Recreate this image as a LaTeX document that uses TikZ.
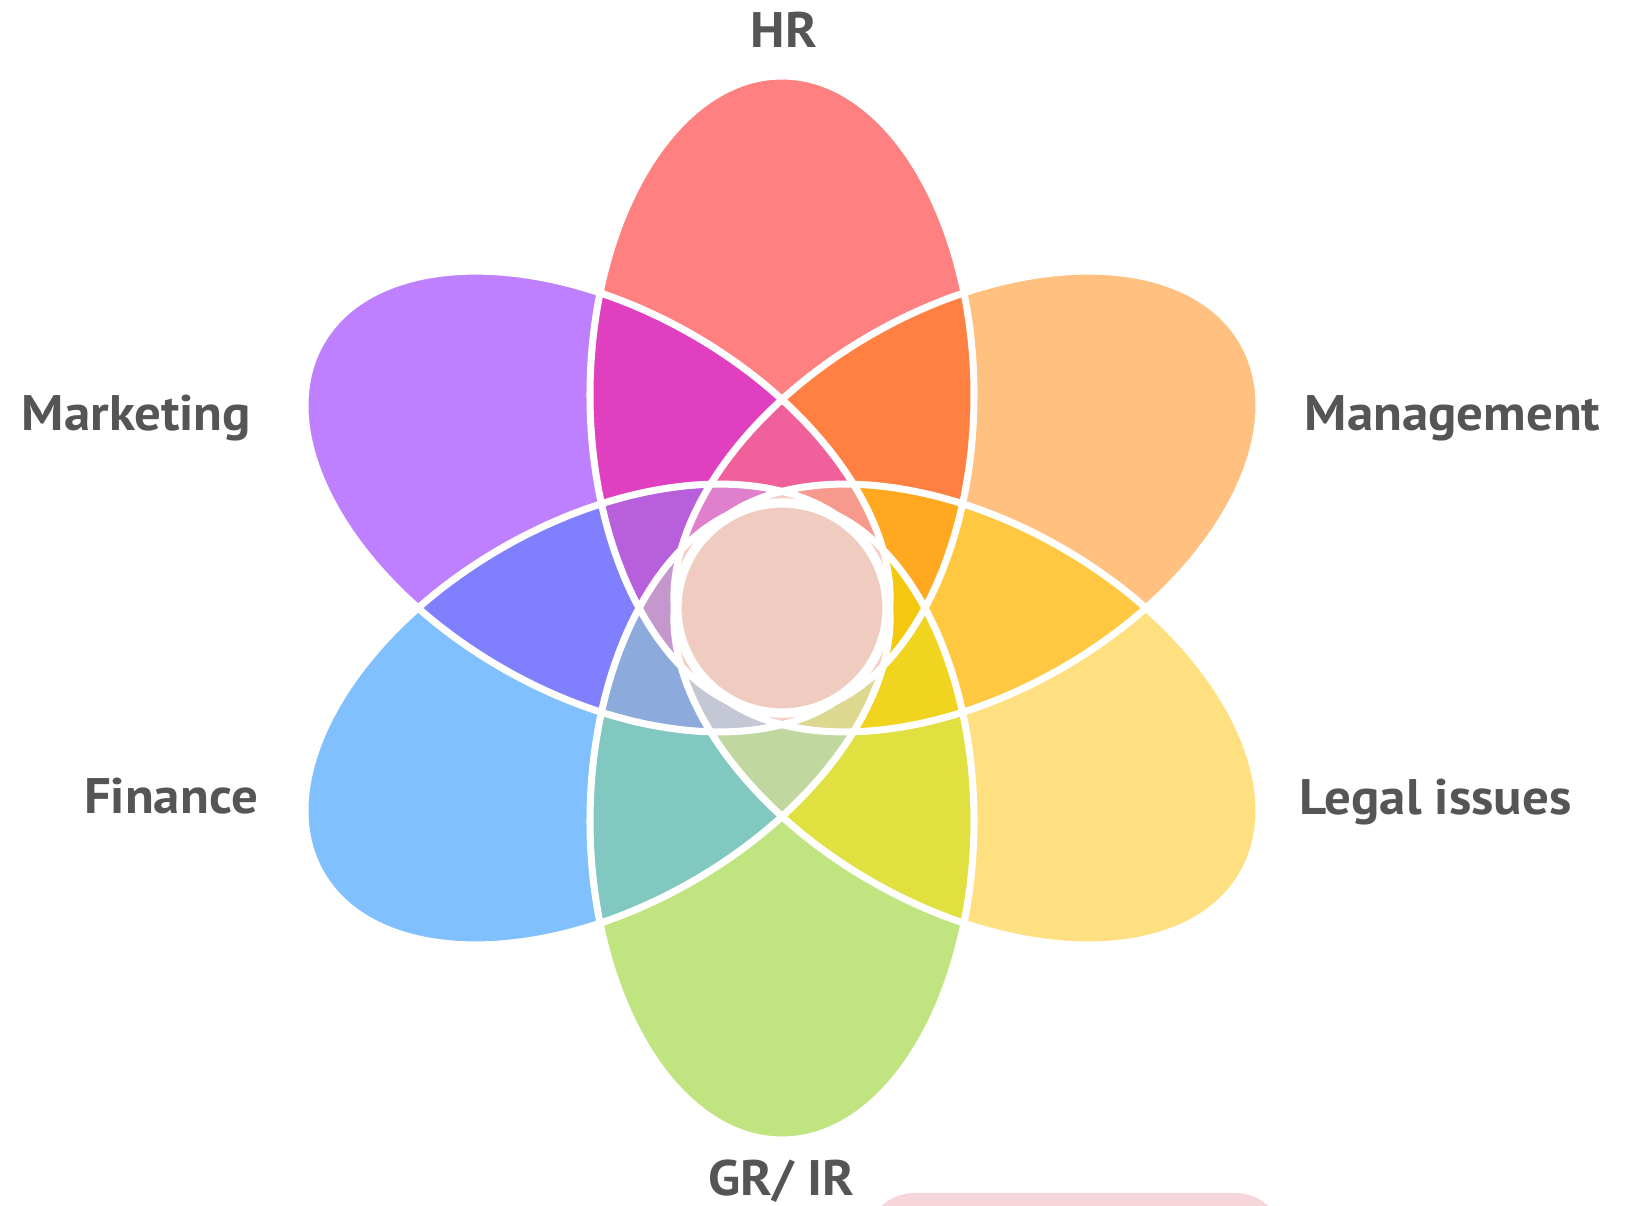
\documentclass[tikz,border=0pt]{standalone}
\usepackage{fontspec}
\setmainfont{PT Sans}[FakeStretch=1.06]
\usepackage{xcolor}
% one petal each
\definecolor{cMgmt}{HTML}{FFC080}
\definecolor{cHR}{HTML}{FF8080}
\definecolor{cMkt}{HTML}{BF80FF}
\definecolor{cFin}{HTML}{80C0FF}
\definecolor{cGR}{HTML}{C0E480}
\definecolor{cLegal}{HTML}{FFE080}
% overlaps
\definecolor{cMgmtHR}{HTML}{FF8040}
\definecolor{cHRMkt}{HTML}{E040C0}
\definecolor{cMktFin}{HTML}{8080FF}
\definecolor{cFinGR}{HTML}{80C8C0}
\definecolor{cGRLegal}{HTML}{E0E040}
\definecolor{cLegalMgmt}{HTML}{FFC840}
\definecolor{cTriMgmt}{HTML}{FFA820}
\definecolor{cTriHR}{HTML}{F0609A}
\definecolor{cTriMkt}{HTML}{B860DC}
\definecolor{cTriFin}{HTML}{8CAADC}
\definecolor{cTriGR}{HTML}{C0D8A0}
\definecolor{cTriLegal}{HTML}{F0D420}
\definecolor{cQuadA}{HTML}{F59A8C}
\definecolor{cQuadB}{HTML}{E080CC}
\definecolor{cQuadC}{HTML}{C498CC}
\definecolor{cQuadD}{HTML}{C4C8D4}
\definecolor{cQuadE}{HTML}{DCD890}
\definecolor{cQuadF}{HTML}{F5C810}
\definecolor{cFive}{HTML}{F6CCC4}
\definecolor{cCore}{HTML}{F0CCC0}
\definecolor{cNote}{HTML}{F6D6DB}
\definecolor{labelgray}{HTML}{555555}
\tikzset{
    petal-edge/.style = {draw=white, line width=2pt},
    area-label/.style = {text=labelgray, font=\bfseries\fontsize{14.2}{17}\selectfont, anchor=base, inner sep=0pt},
}

\begin{document}
\begin{tikzpicture}
\useasboundingbox (0,0) rectangle (16.3,-12.06);
\fill[cNote, rounded corners=0.5cm] (8.65,-11.93) rectangle (12.85,-12.6);

\begin{scope}[shift={(7.82,-6.08)}]
% petals
\foreach \ang/\col in {30/cMgmt, 90/cHR, 150/cMkt, 210/cFin, 270/cGR, 330/cLegal}
    \fill[\col, rotate=\ang] (2.13,0) ellipse [x radius=3.19, y radius=1.92];
% two petals
\foreach \ang/\col in {30/cMgmtHR, 90/cHRMkt, 150/cMktFin, 210/cFinGR, 270/cGRLegal, 330/cLegalMgmt} {
    \begin{scope}
        \clip[rotate=\ang] (2.13,0) ellipse [x radius=3.19, y radius=1.92];
        \fill[\col, rotate=\ang+60] (2.13,0) ellipse [x radius=3.19, y radius=1.92];
    \end{scope}
}
% three petals
\foreach \ang/\col in {30/cTriMgmt, 90/cTriHR, 150/cTriMkt, 210/cTriFin, 270/cTriGR, 330/cTriLegal} {
    \begin{scope}
        \clip[rotate=\ang-60] (2.13,0) ellipse [x radius=3.19, y radius=1.92];
        \clip[rotate=\ang+60] (2.13,0) ellipse [x radius=3.19, y radius=1.92];
        \fill[\col, rotate=\ang] (2.13,0) ellipse [x radius=3.19, y radius=1.92];
    \end{scope}
}
% four petals
\foreach \ang/\col in {30/cQuadA, 90/cQuadB, 150/cQuadC, 210/cQuadD, 270/cQuadE, 330/cQuadF} {
    \begin{scope}
        \clip[rotate=\ang-60] (2.13,0) ellipse [x radius=3.19, y radius=1.92];
        \clip[rotate=\ang] (2.13,0) ellipse [x radius=3.19, y radius=1.92];
        \clip[rotate=\ang+60] (2.13,0) ellipse [x radius=3.19, y radius=1.92];
        \fill[\col, rotate=\ang+120] (2.13,0) ellipse [x radius=3.19, y radius=1.92];
    \end{scope}
}
% five petals
\foreach \ang in {30,90,...,330} {
    \begin{scope}
        \clip[rotate=\ang+60] (2.13,0) ellipse [x radius=3.19, y radius=1.92];
        \clip[rotate=\ang+120] (2.13,0) ellipse [x radius=3.19, y radius=1.92];
        \clip[rotate=\ang+180] (2.13,0) ellipse [x radius=3.19, y radius=1.92];
        \clip[rotate=\ang+240] (2.13,0) ellipse [x radius=3.19, y radius=1.92];
        \fill[cFive, rotate=\ang+300] (2.13,0) ellipse [x radius=3.19, y radius=1.92];
    \end{scope}
}
% outlines
\foreach \ang in {30,90,...,330}
    \draw[petal-edge, rotate=\ang] (2.13,0) ellipse [x radius=3.19, y radius=1.92];
\node[circle, draw=white, line width=2.6pt, fill=cCore, minimum size=2.1cm, inner sep=0pt] (core) at (0,0) {};
\end{scope}

\node[area-label] (hr) at (7.84,-0.47) {HR};
\node[area-label] (marketing) at (1.365,-4.30) {Marketing};
\node[area-label] (management) at (14.525,-4.30) {Management};
\node[area-label] (finance) at (1.71,-8.13) {Finance};
\node[area-label] (legal) at (14.355,-8.14) {Legal issues};
\node[area-label] (grir) at (7.815,-11.95) {GR/ IR};
\end{tikzpicture}
\end{document}
